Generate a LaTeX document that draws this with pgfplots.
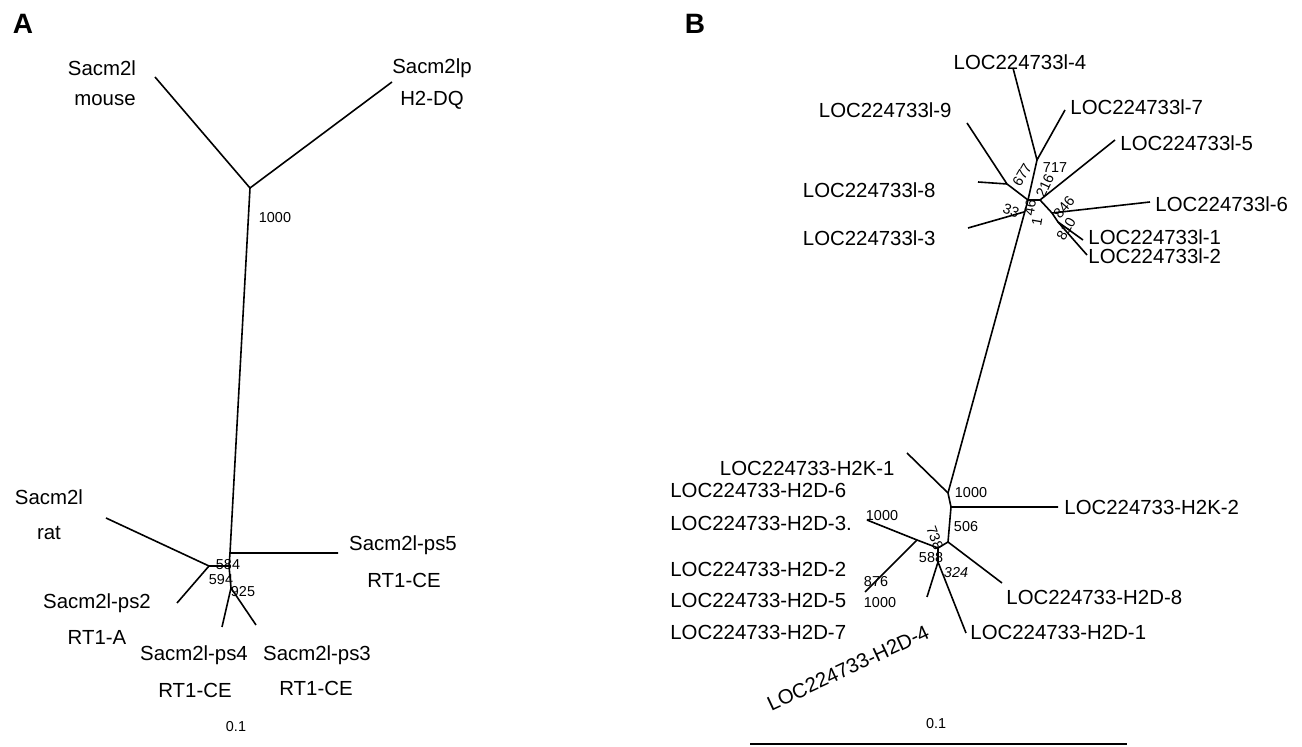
\documentclass[border=0pt]{standalone}
\usepackage{pgfplots}
\pgfplotsset{compat=1.18}
\usepackage{fontspec}
\setmainfont{Liberation Sans}
\begin{document}
\begin{tikzpicture}
\begin{axis}[width=651pt,height=373.5pt,scale only axis,hide axis,
  xmin=0,xmax=1302,ymin=0,ymax=747,y dir=reverse,clip=false,
  tree/.style={black,line width=0.8pt,mark=none,line join=round}]
\path (axis cs:0,0) rectangle (axis cs:1302,747);
% ---------------- Panel A ----------------
\addplot[tree] coordinates {(155,77) (250,188) (392,82)};
\addplot[tree] coordinates {(250,188) (230,553) (338,553)};
\addplot[tree] coordinates {(230,553) (229,566) (231,588) (222,627)};
\addplot[tree] coordinates {(231,588) (256,625)};
\addplot[tree] coordinates {(229,566) (209,566) (106,518)};
\addplot[tree] coordinates {(209,566) (177,603)};
% ---------------- Panel B ----------------
\addplot[tree] coordinates {(1013,68) (1037,160) (1065,110)};
\addplot[tree] coordinates {(1037,160) (1028,200)};
\addplot[tree] coordinates {(967,123) (1007,184) (1028,200)};
\addplot[tree] coordinates {(978,182) (1007,184)};
\addplot[tree] coordinates {(1028,200) (1040,200) (1115,140)};
\addplot[tree] coordinates {(1040,200) (1052,213) (1150,202)};
\addplot[tree] coordinates {(1052,213) (1058,222) (1083,240)};
\addplot[tree] coordinates {(1058,222) (1087,255)};
\addplot[tree] coordinates {(1028,200) (948,493)};
\addplot[tree] coordinates {(968,228) (1024,212)};
\addplot[tree] coordinates {(907,453) (948,493) (951,507) (1058,507)};
\addplot[tree] coordinates {(951,507) (948,542) (1002,583)};
\addplot[tree] coordinates {(948,542) (938,548) (917,540) (867,520)};
\addplot[tree] coordinates {(917,540) (865,592)};
\addplot[tree] coordinates {(938,548) (938,562) (927,597)};
\addplot[tree] coordinates {(938,562) (966,633)};
\addplot[black,line width=1.2pt,mark=none] coordinates {(750,744) (1127,744)};
% ---------------- Labels A ----------------
\begin{scope}[every node/.style={inner sep=0pt,font=\fontsize{10.2}{12}\selectfont}]
\node[font=\fontsize{14}{16}\selectfont\bfseries] at (axis cs:23,24) {A};
\node[font=\fontsize{14}{16}\selectfont\bfseries] at (axis cs:695,24) {B};
\node at (axis cs:102,68) {Sacm2l};
\node at (axis cs:105,100) {mouse};
\node at (axis cs:432,68) {Sacm2lp};
\node at (axis cs:432,100) {H2-DQ};
\node at (axis cs:49,497) {Sacm2l};
\node at (axis cs:49,533) {rat};
\node at (axis cs:403,545) {Sacm2l-ps5};
\node at (axis cs:404,580) {RT1-CE};
\node at (axis cs:97,603) {Sacm2l-ps2};
\node at (axis cs:97,637) {RT1-A};
\node at (axis cs:194,655) {Sacm2l-ps4};
\node at (axis cs:195,690) {RT1-CE};
\node at (axis cs:317,655) {Sacm2l-ps3};
\node at (axis cs:316,688) {RT1-CE};
% ---------------- Labels B ----------------
\node at (axis cs:1020,62) {LOC224733l-4};
\node[anchor=west] at (axis cs:1070,107) {LOC224733l-7};
\node[anchor=east] at (axis cs:952,110) {LOC224733l-9};
\node[anchor=west] at (axis cs:1120,143) {LOC224733l-5};
\node[anchor=east] at (axis cs:936,190) {LOC224733l-8};
\node[anchor=west] at (axis cs:1155,204) {LOC224733l-6};
\node[anchor=east] at (axis cs:936,238) {LOC224733l-3};
\node[anchor=west] at (axis cs:1088,237) {LOC224733l-1};
\node[anchor=west] at (axis cs:1088,256) {LOC224733l-2};
\node[anchor=east] at (axis cs:895,468) {LOC224733-H2K-1};
\node[anchor=west] at (axis cs:1064,507) {LOC224733-H2K-2};
\node[anchor=west] at (axis cs:670,490) {LOC224733-H2D-6};
\node[anchor=west] at (axis cs:670,523) {LOC224733-H2D-3.};
\node[anchor=west] at (axis cs:670,569) {LOC224733-H2D-2};
\node[anchor=west] at (axis cs:670,600) {LOC224733-H2D-5};
\node[anchor=west] at (axis cs:670,632) {LOC224733-H2D-7};
\node[anchor=west] at (axis cs:1006,597) {LOC224733-H2D-8};
\node[anchor=west] at (axis cs:970,632) {LOC224733-H2D-1};
\node[rotate=25] at (axis cs:848,668) {LOC224733-H2D-4};
\end{scope}
\begin{scope}[every node/.style={inner sep=0pt,font=\fontsize{7.2}{8}\selectfont}]
\node at (axis cs:275,218) {1000};
\node at (axis cs:228,565) {584};
\node at (axis cs:221,580) {594};
\node at (axis cs:243,592) {925};
\node at (axis cs:236,727) {0.1};
\node[rotate=60] at (axis cs:1022,175) {677};
\node at (axis cs:1055,168) {717};
\node[rotate=65] at (axis cs:1045,186) {216};
\node[rotate=-20] at (axis cs:1011,211) {33};
\node[rotate=80] at (axis cs:1030,208) {46};
\node[rotate=80] at (axis cs:1037,222) {1};
\node[rotate=50] at (axis cs:1064,207) {846};
\node[rotate=60] at (axis cs:1066,229) {810};
\node at (axis cs:971,493) {1000};
\node at (axis cs:966,527) {506};
\node[rotate=-70] at (axis cs:935,538) {738};
\node at (axis cs:931,558) {588};
\node[font=\fontsize{7.2}{8}\selectfont\itshape] at (axis cs:956,573) {324};
\node at (axis cs:882,516) {1000};
\node at (axis cs:876,582) {876};
\node at (axis cs:880,603) {1000};
\node at (axis cs:936,724) {0.1};
\end{scope}
\end{axis}
\end{tikzpicture}
\end{document}
